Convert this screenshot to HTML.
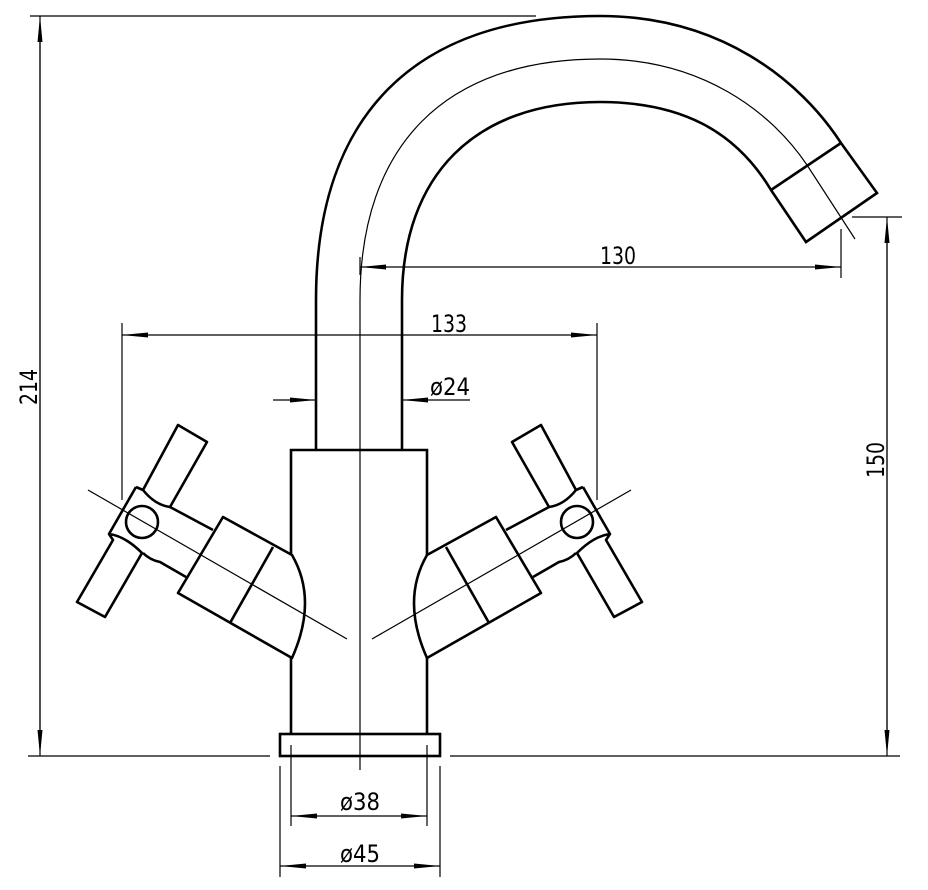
<!DOCTYPE html>
<html><head><meta charset="utf-8"><style>
html,body{margin:0;padding:0;background:#fff;}
svg{display:block;}
text{font-family:"Liberation Sans Narrow","DejaVu Sans Condensed","Liberation Sans",sans-serif;font-size:24px;fill:#000;}
</style></head><body>
<svg width="928" height="890" viewBox="0 0 928 890" xmlns="http://www.w3.org/2000/svg">
<defs>
<marker id="a" markerWidth="26" markerHeight="8" refX="26" refY="4" orient="auto" markerUnits="userSpaceOnUse">
<path d="M0,1.5 L26,4 L0,6.5 Z" fill="#000"/></marker>
<g id="h" fill="none" stroke="#000" stroke-width="2.6" stroke-linejoin="round">
<path d="M223,517 L292,555 Q318,600 292,658 L178,593 Z"/>
<path d="M273,547 L230,623"/>
<path d="M170,507 L213,530 M143,553 Q150,560 160,562 L186,577"/>
<path d="M136,487 L143,490 Q155,505 170,507 L207,442 L178,425 L143,490"/>
<path d="M109,534 L113,540 L77,602 L105,617 L142,553 Q125,536 109,534 L136,487"/>
<circle cx="142" cy="522" r="16"/>
<path d="M88,490 L347,639" stroke-width="1.2"/>
</g>
</defs>
<g fill="none" stroke="#000">
<!-- spout -->
<path d="M316,450 L316,300 C316,115 415,16 600,16 C720,16 800,80 841,143 L877,193 L806,242 L771,190 C735,130 680,102 600,102 C475,102 402,175 402,300 L402,450" stroke-width="2.6"/>
<path d="M771,190 L841,143" stroke-width="2.6"/>
<path d="M360,770 L360,300 C360,145 445,59 600,59 C700,59 770,110 807,165 L855,239" stroke-width="1.2"/>
<!-- body -->
<path d="M291,555 L291,450 L427,450 L427,555 M291,658 L291,734 M427,658 L427,734" stroke-width="2.6"/>
<rect x="280" y="734" width="160" height="22" stroke-width="2.6"/>
<!-- dims -->
<g stroke-width="1.2">
<path d="M30,16 L536,16 M28,756 L270,756 M450,756 L900,756 M852,217 L902,217"/>
<path d="M40,730 L40,16" marker-end="url(#a)"/>
<path d="M40,40 L40,756" marker-end="url(#a)"/>
<path d="M887,730 L887,217" marker-end="url(#a)"/>
<path d="M887,240 L887,756" marker-end="url(#a)"/>
<path d="M841,229 L841,278 M360,257 L360,275"/>
<path d="M600,267 L360,267" marker-end="url(#a)"/>
<path d="M600,267 L841,267" marker-end="url(#a)"/>
<path d="M122,323 L122,500 M597,323 L597,500"/>
<path d="M360,335 L122,335" marker-end="url(#a)"/>
<path d="M360,335 L597,335" marker-end="url(#a)"/>
<path d="M273,400 L316,400" marker-end="url(#a)"/>
<path d="M470,400 L402,400" marker-end="url(#a)"/>
<path d="M291,745 L291,826 M427,745 L427,826 M280,766 L280,877 M440,766 L440,877"/>
<path d="M360,816 L291,816" marker-end="url(#a)"/>
<path d="M360,816 L427,816" marker-end="url(#a)"/>
<path d="M360,866 L280,866" marker-end="url(#a)"/>
<path d="M360,866 L440,866" marker-end="url(#a)"/>
</g>
</g>
<use href="#h"/>
<use href="#h" transform="matrix(-1,0,0,1,719,0)"/>
<text x="600" y="264" textLength="36" lengthAdjust="spacingAndGlyphs">130</text>
<text x="431" y="332" textLength="36" lengthAdjust="spacingAndGlyphs">133</text>
<text x="430" y="395" textLength="40" lengthAdjust="spacingAndGlyphs">ø24</text>
<text x="340" y="810" textLength="40" lengthAdjust="spacingAndGlyphs">ø38</text>
<text x="340" y="862" textLength="40" lengthAdjust="spacingAndGlyphs">ø45</text>
<text transform="translate(37,405) rotate(-90)" textLength="36" lengthAdjust="spacingAndGlyphs">214</text>
<text transform="translate(884,478) rotate(-90)" textLength="36" lengthAdjust="spacingAndGlyphs">150</text>
</svg>
</body></html>
